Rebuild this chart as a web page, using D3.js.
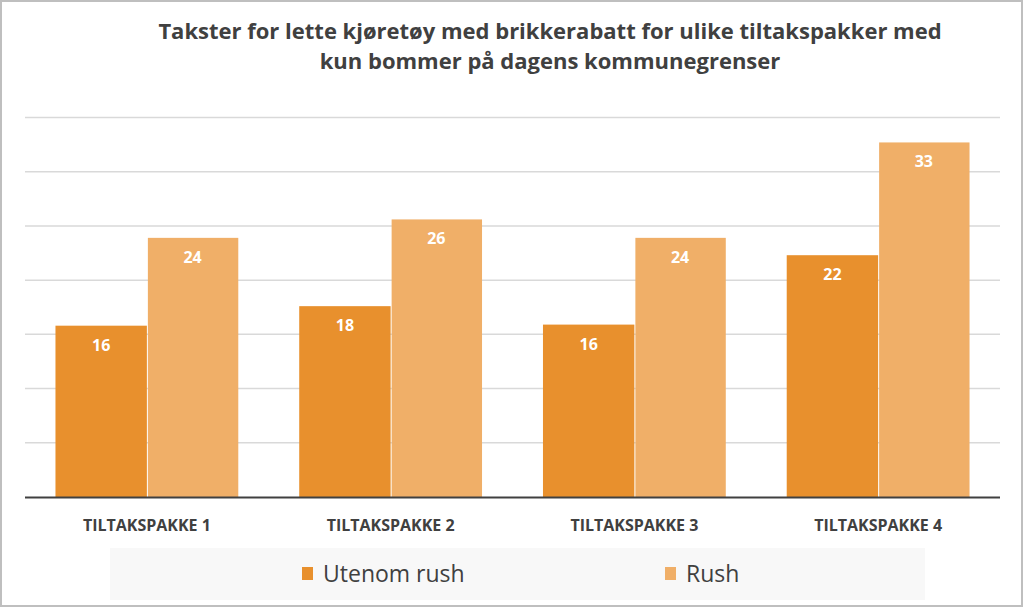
<!DOCTYPE html>
<html><head><meta charset="utf-8">
<script src="https://cdn.jsdelivr.net/npm/d3@7"></script>
<style>
html,body{margin:0;padding:0;background:#fff;}
svg{display:block;font-family:"Open Sans",sans-serif;}
</style></head>
<body><svg id="c" width="1024" height="608"></svg>
<script>
const titleLines = ["Takster for lette kjøretøy med brikkerabatt for ulike tiltakspakker med","kun bommer på dagens kommunegrenser"];
const categories = ["TILTAKSPAKKE 1","TILTAKSPAKKE 2","TILTAKSPAKKE 3","TILTAKSPAKKE 4"];
const seriesNames = ["Utenom rush","Rush"];
const utenomRush = [15.8,17.6,15.9,22.3];
const rush = [23.9,25.6,23.9,32.7];
const gridTicks = [5,10,15,20,25,30,35];
const colors = ["#E8902D","#F0AF68"];

const svg = d3.select("#c");
const W=1024,H=608;
svg.append("rect").attr("x",1).attr("y",1).attr("width",W-3).attr("height",H-3)
  .attr("fill","#fff").attr("stroke","#BFBFBF").attr("stroke-width",2);

const pL=25,pR=1000,pT=117.5,pB=497;
const x = d3.scaleBand().domain(categories).range([pL,pR]).paddingInner(0.25).paddingOuter(0.125);
const x1 = d3.scaleBand().domain(seriesNames).range([0,x.bandwidth()]);
const y = d3.scaleLinear().domain([0,35]).range([pB,pT]);

// grid
svg.append("g").selectAll("line").data(gridTicks).join("line")
  .attr("x1",pL).attr("x2",pR).attr("y1",d=>y(d)).attr("y2",d=>y(d))
  .attr("stroke","#D9D9D9").attr("stroke-width",1.5);

const data = categories.map((c,i)=>({cat:c, vals:[utenomRush[i],rush[i]]}));
const g = svg.append("g").selectAll("g").data(data).join("g")
  .attr("transform",d=>`translate(${x(d.cat)},0)`);
g.selectAll("rect").data(d=>d.vals.map((v,j)=>({v,s:seriesNames[j],j}))).join("rect")
  .attr("x",d=>x1(d.s)+(d.j===1?1:0)).attr("width",d=>x1.bandwidth()-(d.j===1?1:0))
  .attr("y",d=>y(d.v)).attr("height",d=>pB-y(d.v)).attr("fill",d=>colors[d.j]);
g.selectAll("text").data(d=>d.vals.map((v,j)=>({v,s:seriesNames[j],j}))).join("text")
  .attr("x",d=>x1(d.s)+x1.bandwidth()/2).attr("y",d=>y(d.v)+25)
  .attr("text-anchor","middle").attr("fill","#fff").attr("font-weight","bold")
  .attr("font-size",16).text(d=>Math.round(d.v));

// baseline
svg.append("line").attr("x1",pL).attr("x2",pR).attr("y1",pB+0.5).attr("y2",pB+0.5)
  .attr("stroke","#404040").attr("stroke-width",2);

// x axis labels
const xa = d3.axisBottom(x).tickSize(0).tickPadding(0);
const ax = svg.append("g").attr("transform",`translate(0,${pB})`).call(xa);
ax.select(".domain").remove();
ax.selectAll("text").attr("y",34).attr("dy",0).attr("fill","#404040").attr("font-size",16)
  .attr("font-weight","bold").attr("font-family","\"Open Sans\",sans-serif");

// title
svg.append("g").selectAll("text").data(titleLines).join("text")
  .attr("x",550).attr("y",(d,i)=>39+i*30).attr("text-anchor","middle")
  .attr("font-size",22).attr("font-weight","bold").attr("fill","#404040").text(d=>d);

// legend
svg.append("rect").attr("x",110).attr("y",548).attr("width",815).attr("height",52).attr("fill","#F8F8F8");
const lg = svg.append("g").selectAll("g").data(seriesNames).join("g")
  .attr("transform",(d,i)=>`translate(${[302,665][i]},0)`);
lg.append("rect").attr("x",0).attr("y",567).attr("width",11).attr("height",13).attr("fill",(d,i)=>colors[i]);
lg.append("text").attr("x",21).attr("y",582).attr("font-size",23).attr("fill","#404040").text(d=>d);
</script></body></html>
